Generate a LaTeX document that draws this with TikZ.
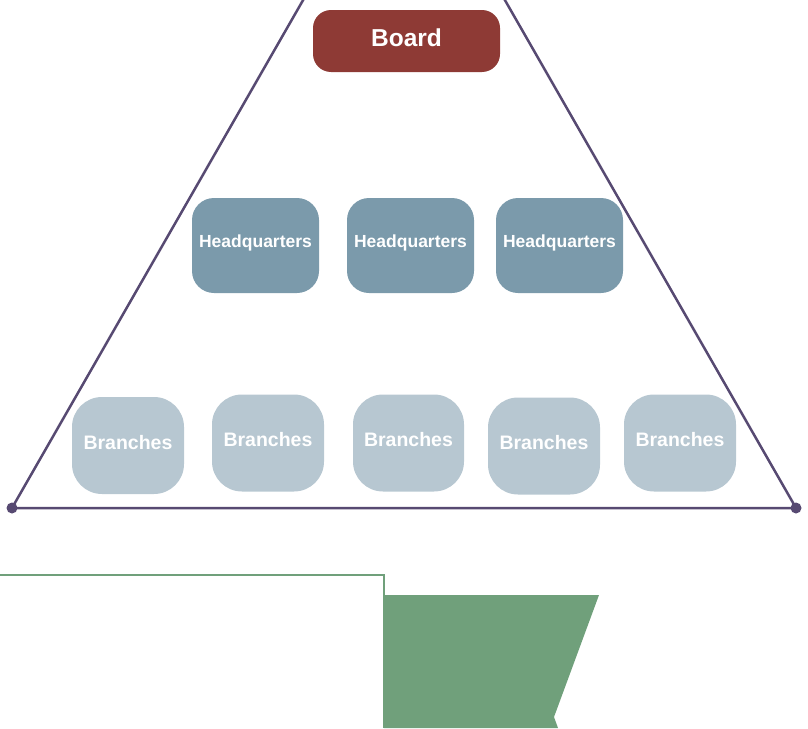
\documentclass[tikz,border=0pt]{standalone}
\usepackage{fontspec}
\setmainfont{Liberation Sans}
\definecolor{boardred}{HTML}{8E3A35}
\definecolor{hqblue}{HTML}{7B9AAB}
\definecolor{brblue}{HTML}{B7C7D1}
\definecolor{trline}{HTML}{574A72}
\definecolor{green}{HTML}{70A07B}
\begin{document}
\begin{tikzpicture}[x=1pt,y=-1pt,
  boardbox/.style={fill=boardred,rounded corners=18pt,minimum width=187pt,minimum height=62pt,text=white,font=\bfseries\fontsize{24.5}{28}\selectfont,inner sep=0pt},
  hqbox/.style={fill=hqblue,rounded corners=22pt,minimum width=127pt,minimum height=95pt,text=white,font=\bfseries\fontsize{17.5}{20}\selectfont,inner sep=0pt},
  brbox/.style={fill=brblue,rounded corners=30pt,minimum width=112pt,minimum height=97pt,text=white,font=\bfseries\fontsize{19.5}{22}\selectfont,inner sep=0pt},
  tri/.style={draw=trline,line width=2.5pt},
  dot/.style={fill=trline,circle,inner sep=0pt,minimum size=11pt}]
\useasboundingbox (0,0) rectangle (808,728);
\clip (0,0) rectangle (808,728);
% triangle
\coordinate (L) at (12,508);
\coordinate (R) at (796,508);
\coordinate (A) at (404,-176);
\draw[tri,line join=round] (L) -- (A) -- (R) -- cycle;
\node[dot] (dl) at (L) {};
\node[dot] (dr) at (R) {};
% board
\node[boardbox] (board) at (406.5,41) {\raisebox{6pt}{Board}};
% headquarters
\node[hqbox] (hq1) at (255.5,245.5) {\raisebox{8pt}{Headquarters}};
\node[hqbox] (hq2) at (410.5,245.5) {\raisebox{8pt}{Headquarters}};
\node[hqbox] (hq3) at (559.5,245.5) {\raisebox{8pt}{Headquarters}};
% branches
\node[brbox] (b1) at (128,445.5) {\raisebox{7pt}{Branches}};
\node[brbox] (b2) at (268,443) {\raisebox{7pt}{Branches}};
\node[brbox,minimum width=111pt] (b3) at (408.5,443) {\raisebox{7pt}{Branches}};
\node[brbox] (b4) at (544,446) {\raisebox{7pt}{Branches}};
\node[brbox] (b5) at (680,443) {\raisebox{7pt}{Branches}};
% bottom green shapes
\fill[green] (384,595) -- (599,595) -- (554,717) -- (558,728) -- (384,728) -- cycle;
\draw[green,line width=1.5pt] (0,575) -- (384,575) -- (384,728);
\end{tikzpicture}
\end{document}
